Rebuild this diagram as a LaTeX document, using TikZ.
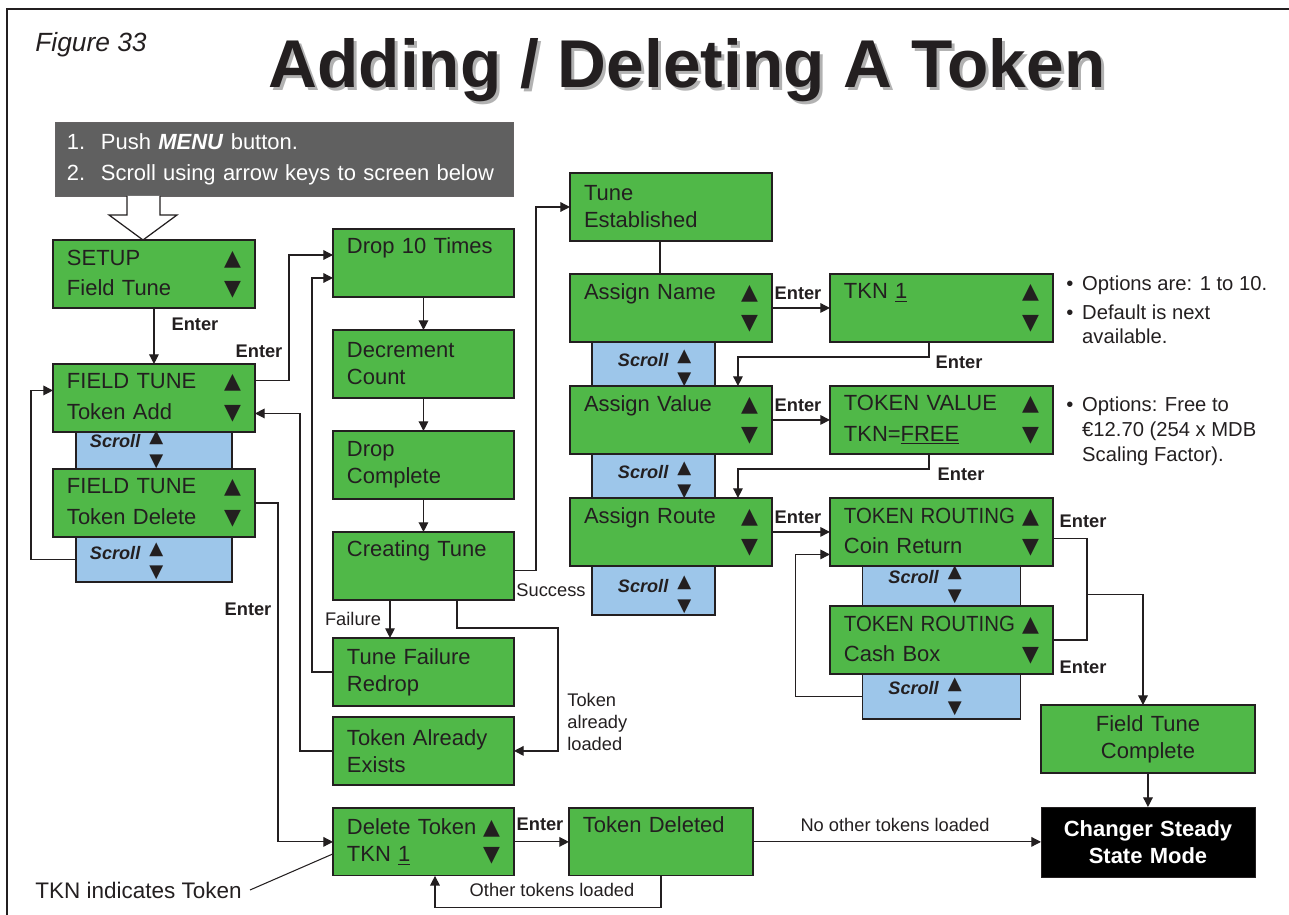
\documentclass[tikz,border=0pt]{standalone}
\usepackage{fontspec}
\usepackage{graphicx}
\usepackage{xcolor}
\setmainfont{Liberation Sans}
\newfontfamily\glyphfont{DejaVu Sans}
\usetikzlibrary{arrows.meta, positioning, calc}
\definecolor{lcdgreen}{HTML}{50B848}
\definecolor{scrollblue}{HTML}{9DC6EA}
\definecolor{menugray}{HTML}{606060}
\definecolor{ink}{HTML}{231F20}
\newcommand{\up}{{\glyphfont ▲}}
\newcommand{\dn}{{\glyphfont ▼}}
\newcommand{\boxfont}{\fontsize{12.5}{15.3}\selectfont}
\newcommand{\scrl}[1][-3.5pt]{\fontsize{10.3}{13.5}\selectfont\raisebox{#1}[0pt][0pt]{\begin{tabular}{@{}l@{\hspace{5pt}}c@{}}\raisebox{-3pt}[0pt][0pt]{\textbf{\textit{Scroll}}} & \up\\ & \dn\end{tabular}}}
\newcommand{\titletext}{Adding / Deleting A Token}

\begin{document}
\begin{tikzpicture}[x=0.02cm, y=-0.02cm,
    screen/.style={draw=ink, line width=.7pt, fill=lcdgreen, text=ink, font=\boxfont, outer sep=0pt,
                   text width=#1, inner xsep=.28cm, inner ysep=0pt, minimum height=1.36cm, align=left},
    scrollbox/.style={draw=ink, line width=.7pt, fill=scrollblue, text=ink, outer sep=0pt,
                   text width=#1, inner xsep=.52cm, inner ysep=0pt, align=left},
    endbox/.style={draw=ink, fill=black, text=white, font=\boxfont\bfseries, outer sep=0pt,
                   text width=3.72cm, inner xsep=.28cm, minimum height=1.4cm, align=center},
    lbl/.style={font=\fontsize{10.4}{12}\selectfont\bfseries, text=ink, inner sep=0pt},
    txt/.style={font=\fontsize{10.4}{12.7}\selectfont, text=ink, inner sep=0pt, align=left},
    note/.style={font=\fontsize{11.5}{14}\selectfont, text=ink, inner sep=0pt},
    arr/.style={-{Triangle[length=5.5pt, width=5.5pt]}, line width=.7pt, draw=ink},
    wire/.style={line width=.7pt, draw=ink}
]
\useasboundingbox (0,0) rectangle (1289,915);
\draw[wire, line width=.8pt] (7,915) -- (7,9) -- (1289,9);

\node[font=\fontsize{15}{17}\selectfont\itshape, text=ink, anchor=base west, inner sep=0pt] (fig) at (35,52) {Figure 33};
\node[font=\fontsize{38.5}{40}\selectfont\bfseries, text=ink, anchor=base] (title) at (687,88)
  {\makebox[0pt][l]{\raisebox{-1.7pt}{\hspace*{1.7pt}\textcolor{black!30}{\titletext}}}\titletext};

\node[draw=ink!70, fill=menugray, text=white, font=\fontsize{12.5}{17.6}\selectfont, outer sep=0pt,
      text width=8.68cm, inner xsep=.24cm, minimum height=1.48cm, align=left, anchor=north west] (menu) at (55,122)
      {\begin{tabular}{@{}p{0.68cm}@{}l@{}}1. & Push \textbf{\textit{MENU}} button.\\2. & Scroll using arrow keys to screen below\end{tabular}};

% left column
\node[screen=3.48cm, anchor=north west] (setup) at (53,240) {SETUP\hfill\up\\[2pt]Field Tune\hfill\dn};
\node[screen=3.48cm, below=1.12cm of setup] (ftadd) {FIELD TUNE\hfill\up\\[2pt]Token Add\hfill\dn};
\node[scrollbox=2.56cm, inner xsep=.28cm, minimum height=.74cm, below=0pt of ftadd] (scra) {\scrl[-2pt]};
\node[screen=3.48cm, below=0pt of scra] (ftdel) {FIELD TUNE\hfill\up\\[2pt]Token Delete\hfill\dn};
\node[scrollbox=2.56cm, inner xsep=.28cm, minimum height=.9cm, below=0pt of ftdel] (scrb) {\scrl};
\draw[wire, fill=white] ($(menu.south west)+(72,0)$) -- ++(0,19) -- ++(-18,0) -- ($(setup.north west)+(90,0)$)
      -- ++(34,-25) -- ++(-17,0) -- ++(0,-19);

% tuning column
\node[screen=3.06cm, anchor=north west] (drop) at (333,229) {Drop 10 Times\\\strut};
\node[screen=3.06cm, below=0.66cm of drop] (dec) {Decrement\\Count};
\node[screen=3.06cm, below=0.66cm of dec] (comp) {Drop\\Complete};
\node[screen=3.06cm, below=0.66cm of comp] (creat) {Creating Tune\\\strut};
\node[screen=3.06cm, below=0.76cm of creat] (tfail) {Tune Failure\\Redrop};
\node[screen=3.06cm, below=0.22cm of tfail] (exist) {Token Already\\Exists};
\node[screen=3.06cm, below=0.46cm of exist] (deltok) {Delete Token\hfill\up\\TKN \underline{1}\hfill\dn};
\node[screen=3.12cm, right=1.1cm of deltok] (tdel) {Token Deleted\\\strut};

% assign column
\node[screen=3.48cm, anchor=north west] (tune) at (570,173) {Tune\\Established};
\node[screen=3.48cm, below=0.66cm of tune] (aname) {Assign Name\hfill\up\\[2pt]\hfill\dn};
\node[scrollbox=1.42cm, minimum height=.88cm, below=0pt of aname, xshift=-.35cm] (scrc) {\scrl[-5pt]};
\node[screen=3.48cm, below=0pt of scrc, xshift=.35cm] (aval) {Assign Value\hfill\up\\[2pt]\hfill\dn};
\node[scrollbox=1.42cm, minimum height=.88cm, below=0pt of aval, xshift=-.35cm] (scrd) {\scrl[-5pt]};
\node[screen=3.48cm, below=0pt of scrd, xshift=.35cm] (aroute) {Assign Route\hfill\up\\[2pt]\hfill\dn};
\node[scrollbox=1.42cm, minimum height=.98cm, below=0pt of aroute, xshift=-.35cm] (scre) {\scrl[-5pt]};

% option screens
\node[screen=3.9cm, right=1.16cm of aname] (tkn1) {TKN \underline{1}\hfill\up\\[2pt]\hfill\dn};
\node[screen=3.9cm, right=1.16cm of aval] (tval) {TOKEN VALUE\hfill\up\\[2pt]TKN=\underline{FREE}\hfill\dn};
\node[screen=3.9cm, right=1.16cm of aroute] (coin) {\scalebox{0.93}[1]{TOKEN ROUTING}\hfill\up\\[2pt]Coin Return\hfill\dn};
\node[scrollbox=2.12cm, minimum height=.8cm, below=0pt of coin] (scrf) {\scrl[-2pt]};
\node[screen=3.9cm, below=0pt of scrf] (cash) {\scalebox{0.93}[1]{TOKEN ROUTING}\hfill\up\\[2pt]Cash Box\hfill\dn};
\node[scrollbox=2.12cm, minimum height=.9cm, below=0pt of cash] (scrg) {\scrl[-2.5pt]};

\node[endbox, anchor=north west] (changer) at (1041,807) {Changer Steady\\State Mode};
\node[screen=3.72cm, align=center, above=0.68cm of changer] (ftc) {Field Tune\\Complete};

\node[note, anchor=base west] (opt1) at (1066,291)
  {\begin{tabular}[t]{@{}l@{\hspace{5pt}}l@{}}\textbullet & Options are: 1 to 10.\\[2pt]\textbullet & Default is next\\ & available.\end{tabular}};
\node[note, anchor=base west] (opt2) at (1066,412)
  {\begin{tabular}[t]{@{}l@{\hspace{5pt}}l@{}}\textbullet & Options: Free to\\ & €12.70 (254 x MDB\\ & Scaling Factor).\end{tabular}};

% labels
\node[lbl] (e1) at (195,324) {Enter};
\node[lbl] (e2) at (259,351) {Enter};
\node[lbl] (e3) at (248,609) {Enter};
\node[lbl] (e4) at (798,293) {Enter};
\node[lbl] (e5) at (959,362) {Enter};
\node[lbl] (e6) at (798,405) {Enter};
\node[lbl] (e7) at (961,474) {Enter};
\node[lbl] (e8) at (798,517) {Enter};
\node[lbl] (e9) at (1083,521) {Enter};
\node[lbl] (e10) at (1083,667) {Enter};
\node[lbl] (e11) at (540,824) {Enter};
\node[txt] (fail) at (353,619) {Failure};
\node[txt] (succ) at (551,590) {Success};
\node[txt, anchor=west] (loaded) at (567,722) {Token\\already\\loaded};
\node[txt] (other) at (552,890) {Other tokens loaded};
\node[txt] (noother) at (895,825) {No other tokens loaded};
\node[txt, font=\fontsize{12.8}{15}\selectfont, inner xsep=.16cm, anchor=east] (tkn) at (250,890) {TKN indicates Token};

% connectors
\draw[arr] (setup) -- (ftadd);
\draw[arr] ([yshift=.35cm]ftadd.east) -- ++(34,0) |- ([yshift=.16cm]drop.west);
\draw[arr] (ftdel.east) -- ++(23,0) |- (deltok.west);
\draw[arr] (scrb.west) -- ++(-45,0) |- ([yshift=.15cm]ftadd.west);
\draw[arr] (drop) -- (dec);
\draw[arr] (dec) -- (comp);
\draw[arr] (comp) -- (creat);
\draw[arr] ([xshift=-.67cm]creat.south) -- ([xshift=-.67cm]tfail.north);
\draw[arr] ([yshift=-.09cm]creat.east) -- ++(22,0) |- (tune.west);
\draw[arr] ([xshift=.67cm]creat.south) -- ++(0,28) -- ++(101,0) |- (exist.east);
\draw[arr] (tfail.west) -- ++(-21,0) |- ([yshift=-.3cm]drop.west);
\draw[arr] (exist.west) -- ++(-33,0) |- ([yshift=-.31cm]ftadd.east);
\draw[arr] (deltok) -- (tdel);
\draw[arr] (tdel.east) -- (tdel.east -| changer.west);
\draw[arr] (tdel.south) -- ++(0,32) -| ([xshift=.23cm]deltok.south);
\draw[wire, line width=.6pt] (tkn.east) -- ([yshift=-.24cm]deltok.west);
\draw[wire] ([xshift=-.22cm]tune.south) -- ([xshift=-.22cm]aname.north);
\draw[arr] (aname) -- (tkn1);
\draw[arr] ([xshift=-.25cm]tkn1.south) -- ++(0,15) -| ([xshift=1.34cm]aval.north);
\draw[arr] (aval) -- (tval);
\draw[arr] ([xshift=-.25cm]tval.south) -- ++(0,15) -| ([xshift=1.34cm]aroute.north);
\draw[arr] (aroute) -- (coin);
\draw[arr] (scrg.west) -- ++(-67,0) |- ([yshift=-.45cm]coin.west);
\draw[wire] ([yshift=-.13cm]coin.east) -- ++(34,0) coordinate (fork) |- (cash.east);
\draw[arr] (fork) ++(0,56) -- ++(56,0) -| ([xshift=-.1cm]ftc.north);
\draw[arr] (ftc) -- (changer);
\end{tikzpicture}
\end{document}
